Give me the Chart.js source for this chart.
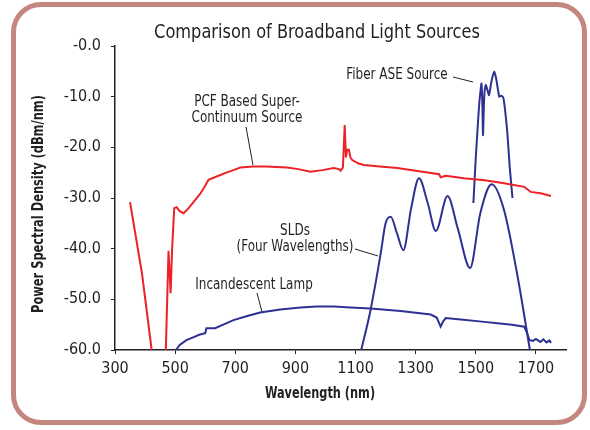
<!DOCTYPE html>
<html>
<head>
<meta charset="utf-8">
<script src="https://cdn.jsdelivr.net/npm/chart.js"></script>
<style>
  html, body { margin: 0; padding: 0; background: #fff; }
  #wrap { position: relative; width: 590px; height: 430px; overflow: hidden; }
  #frame {
    position: absolute; left: 11px; top: 2px; width: 576px; height: 423px;
    box-sizing: border-box; border: 5px solid #c4877f; border-radius: 30px;
  }
  #chart { position: absolute; left: 0; top: 0; }
</style>
</head>
<body>
<div id="wrap">
  <div id="frame"></div>
  <canvas id="chart" width="590" height="430"></canvas>
</div>
<script>
const titleText = 'Comparison of Broadband Light Sources';
const xTitle = 'Wavelength (nm)';
const yTitle = 'Power Spectral Density (dBm/nm)';
const xTicks = [300, 500, 700, 900, 1100, 1300, 1500, 1700];
const yTicks = [-60, -50, -40, -30, -20, -10, 0];
const yTickLabels = ['-60.0', '-50.0', '-40.0', '-30.0', '-20.0', '-10.0', '-0.0'];

// PCF based super-continuum source (red)
const pcfX = [350, 390, 422, 445, 466, 469, 478, 481, 485, 490, 497, 505, 515, 528, 545, 565, 583, 600, 611,
  640, 670, 694, 717, 760, 800, 872, 910, 950, 990, 1027, 1045, 1050, 1058, 1064, 1068, 1072, 1078, 1083, 1089,
  1110, 1128, 1180, 1239, 1300, 1378, 1383, 1400, 1461, 1530, 1594, 1661, 1683, 1720, 1750];
const pcfY = [-30.8, -45, -60, -64, -64, -60, -40.4, -44, -48.8, -40, -32, -31.8, -32.6, -33, -32, -30.5, -29.2, -27.6, -26.4,
  -25.7, -25, -24.5, -24.0, -23.8, -23.8, -24, -24.3, -24.8, -24.5, -24.1, -24.3, -24.6, -24.0, -15.6, -22, -20.5, -20.5, -22, -22.5,
  -23.2, -23.5, -23.8, -24.1, -24.6, -25.3, -25.9, -25.6, -26.1, -26.5, -27.1, -27.8, -28.8, -29.1, -29.6];

// Incandescent lamp (blue)
const lampX = [503, 515, 539, 560, 580, 600, 604, 633, 660, 694, 740, 783, 850, 917, 970, 1028, 1083, 1150, 1250,
  1350, 1370, 1383, 1392, 1400, 1450, 1520, 1572, 1620, 1661, 1670, 1678, 1690, 1700, 1715, 1725, 1735, 1745, 1750];
const lampY = [-60, -59, -58, -57.5, -57, -56.7, -55.7, -55.7, -55, -54.1, -53.3, -52.6, -52, -51.6, -51.4, -51.4, -51.6, -51.8, -52.3,
  -53, -53.6, -55.4, -54.3, -53.7, -54, -54.4, -54.7, -55, -55.4, -56.5, -58, -58.2, -57.8, -58.4, -57.9, -58.5, -58.1, -58.6];

// SLDs, four wavelengths (blue)
const sldX = [1119, 1150, 1183, 1200, 1217, 1238, 1259, 1285, 1311, 1340, 1367, 1406, 1440, 1481, 1515, 1553, 1594, 1639, 1680];
const sldY = [-60, -52.1, -41.2, -35, -33.7, -37, -40.3, -32, -26.1, -31, -36.5, -29.6, -36, -43.8, -33, -27.3, -32.4, -45.5, -60];

// Fiber ASE source (blue)
const aseX = [1492, 1500, 1505, 1512, 1519, 1522, 1524, 1528, 1533, 1538, 1544, 1552, 1561, 1568, 1578, 1585, 1592, 1598, 1605, 1613, 1622];
const aseY = [-31, -22, -17.2, -11, -7.4, -12, -17.6, -10, -7.7, -8.5, -9.7, -7, -5.1, -6.5, -10, -9.8, -10.3, -13, -17.2, -24, -30];

const red = '#ec2227';
const blue = '#2e3192';
const ink = '#231f20';
const cond = '"DejaVu Sans Condensed", "DejaVu Sans", sans-serif';

const pts = (xs, ys) => xs.map((x, i) => ({x: x, y: ys[i]}));

const notes = [
  {lines: ['PCF Based Super-', 'Continuum Source'], x: 247, y: 102, leader: [246, 127, 253, 165]},
  {lines: ['Fiber ASE Source'], x: 397, y: 75, leader: [453, 77, 473, 82]},
  {lines: ['SLDs', '(Four Wavelengths)'], x: 295, y: 231, leader: [355, 249, 378, 256]},
  {lines: ['Incandescent Lamp'], x: 254, y: 285, leader: [257, 293, 262, 312]}
];

// narrow text: the source uses a condensed face, so squeeze horizontally
function squeezed(ctx, text, x, y, font, sx, rot) {
  ctx.save();
  ctx.translate(x, y);
  if (rot) ctx.rotate(rot);
  ctx.scale(sx, 1);
  ctx.font = font;
  ctx.fillText(text, 0, 0);
  ctx.restore();
}

const notesPlugin = {
  id: 'notes',
  afterDraw(chart) {
    const ctx = chart.ctx;
    ctx.save();
    ctx.fillStyle = ink;
    ctx.textAlign = 'center';
    ctx.textBaseline = 'middle';
    squeezed(ctx, titleText, 317, 33, '20px ' + cond, 0.9);
    squeezed(ctx, xTitle, 320, 394, 'bold 15px ' + cond, 0.84);
    squeezed(ctx, yTitle, 39, 204, 'bold 15px ' + cond, 0.845, -Math.PI / 2);
    ctx.strokeStyle = ink;
    ctx.lineWidth = 1;
    notes.forEach(n => {
      n.lines.forEach((t, i) => squeezed(ctx, t, n.x, n.y + i * 16.5, '15px ' + cond, 0.89));
      ctx.beginPath();
      ctx.moveTo(n.leader[0], n.leader[1]);
      ctx.lineTo(n.leader[2], n.leader[3]);
      ctx.stroke();
    });
    ctx.restore();
  }
};

new Chart(document.getElementById('chart'), {
  type: 'line',
  data: {
    datasets: [
      {label: 'PCF', data: pts(pcfX, pcfY), borderColor: red, borderWidth: 2, tension: 0},
      {label: 'Lamp', data: pts(lampX, lampY), borderColor: blue, borderWidth: 2, tension: 0},
      {label: 'SLDs', data: pts(sldX, sldY), borderColor: blue, borderWidth: 2, cubicInterpolationMode: 'monotone'},
      {label: 'ASE', data: pts(aseX, aseY), borderColor: blue, borderWidth: 2, tension: 0.2}
    ]
  },
  options: {
    responsive: false,
    animation: false,
    events: [],
    elements: {point: {radius: 0}},
    layout: {padding: {top: 46, left: 0, right: 24, bottom: 0}},
    plugins: {legend: {display: false}, tooltip: {enabled: false}, title: {display: false}},
    scales: {
      x: {
        type: 'linear', min: 300, max: 1800,
        afterFit: s => { s.height = 80; },
        afterBuildTicks: s => { s.ticks = xTicks.map(v => ({value: v})); },
        border: {color: ink, width: 1.5},
        grid: {drawOnChartArea: false, drawTicks: true, tickLength: 4, color: ink},
        ticks: {color: ink, font: {family: cond, size: 16}, padding: 5, maxRotation: 0,
          callback: (v) => String(v)}
      },
      y: {
        min: -60, max: 0,
        afterFit: s => { s.width = 115; },
        afterBuildTicks: s => { s.ticks = yTicks.map(v => ({value: v})); },
        border: {color: ink, width: 1.5},
        grid: {drawOnChartArea: false, drawTicks: true, tickLength: 4, color: ink},
        ticks: {color: ink, font: {family: cond, size: 16}, padding: 10,
          callback: (v) => yTickLabels[yTicks.indexOf(v)]}
      }
    }
  },
  plugins: [notesPlugin]
});
</script>
</body>
</html>
